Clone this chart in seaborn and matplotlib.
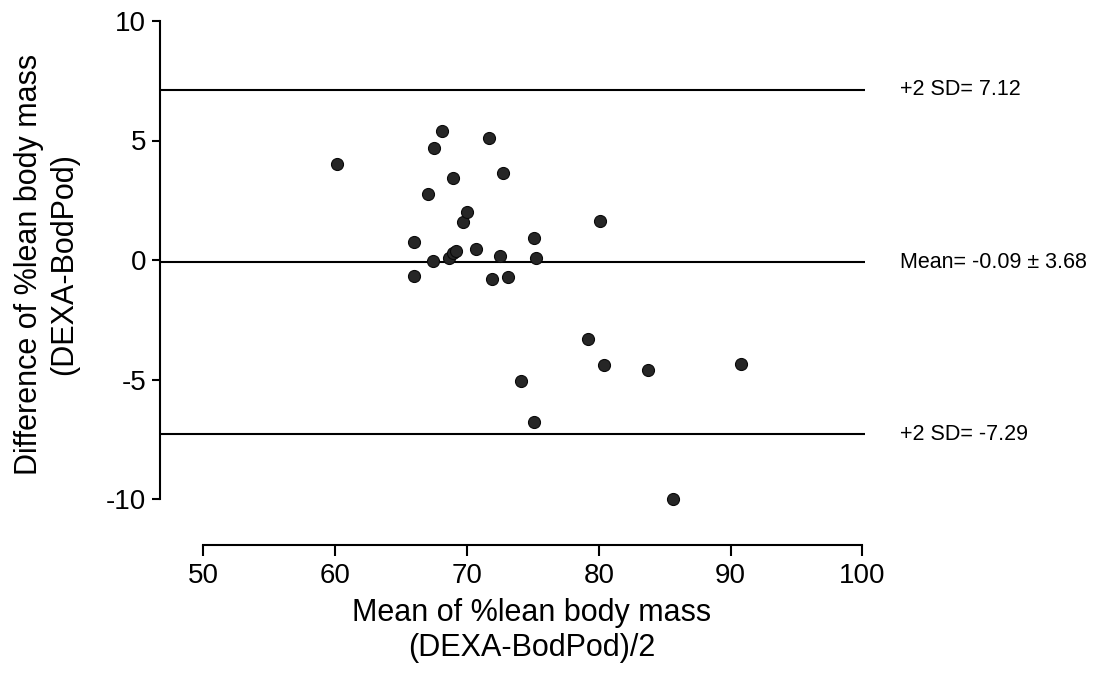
import matplotlib
matplotlib.use("Agg")
import matplotlib.pyplot as plt
import seaborn as sns
import pandas as pd

# Data
mean_lbm = [60.1, 66.0, 66.0, 67.05, 67.4, 67.5, 68.1, 68.6, 68.9, 68.9, 69.2,
            69.7, 70.0, 70.7, 71.7, 71.9, 72.5, 72.7, 73.1, 74.1, 75.1, 75.1,
            75.2, 79.2, 80.1, 80.4, 83.7, 85.6, 90.8]
diff_lbm = [4.0, 0.74, -0.66, 2.75, -0.03, 4.7, 5.4, 0.07, 3.44, 0.28, 0.38,
            1.58, 2.02, 0.45, 5.1, -0.79, 0.17, 3.63, -0.70, -5.08, 0.93, -6.77,
            0.07, -3.31, 1.63, -4.39, -4.60, -10.0, -4.34]

ref_values = [7.12, -0.09, -7.29]
ref_labels = ["+2 SD= 7.12", "Mean= -0.09 \u00b1 3.68", "+2 SD= -7.29"]

x_ticks = [50, 60, 70, 80, 90, 100]
y_ticks = [-10, -5, 0, 5, 10]

sns.set_style("ticks")
plt.rcParams['font.family'] = ['Liberation Sans', 'DejaVu Sans']
plt.rcParams['text.color'] = 'black'
plt.rcParams['axes.labelcolor'] = 'black'

df = pd.DataFrame({"mean": mean_lbm, "diff": diff_lbm})

W, H = 1106, 676
fig = plt.figure(figsize=(W / 100, H / 100), dpi=100)
ax = fig.add_axes([160 / W, 177 / H, 705 / W, 478 / H])

for v in ref_values:
    ax.axhline(v, color="black", lw=1.5, zorder=1)

sns.scatterplot(data=df, x="mean", y="diff", ax=ax, s=75, color="#262626",
                edgecolor="#0a0a0a", linewidth=0.8, zorder=3, clip_on=False,
                legend=False)

ax.set_xlim(46.7, 100.2)
ax.set_ylim(-10, 10)
ax.set_xticks(x_ticks)
ax.set_yticks(y_ticks)
ax.set_xticklabels([str(t) for t in x_ticks])
ax.set_yticklabels([str(t) for t in y_ticks])

ax.spines['top'].set_visible(False)
ax.spines['right'].set_visible(False)
ax.spines['bottom'].set_position(('outward', 33))
ax.spines['bottom'].set_bounds(50, 100)
ax.spines['left'].set_bounds(-10, 10)
for sp in ('left', 'bottom'):
    ax.spines[sp].set_linewidth(1.5)
    ax.spines[sp].set_color("black")

ax.tick_params(axis='x', length=8, width=1.5, labelsize=20, pad=5,
               colors="black", labelcolor="black")
ax.tick_params(axis='y', length=6, width=1.5, labelsize=20, pad=4,
               colors="black", labelcolor="black")

ax.set_xlabel("Mean of %lean body mass\n(DEXA-BodPod)/2", fontsize=22,
              linespacing=1.22)
ax.xaxis.set_label_coords((532 - 160) / 705, -(598 - 499) / 478)
ax.xaxis.label.set_verticalalignment('top')
ax.set_ylabel("Difference of %lean body mass\n(DEXA-BodPod)", fontsize=22,
              linespacing=1.22)
ax.yaxis.set_label_coords((47 - 160) / 705, (499 - 264) / 478)
ax.yaxis.label.set_verticalalignment('center')

for v, lab in zip(ref_values, ref_labels):
    ax.annotate(lab, xy=(1.0, v), xycoords=('axes fraction', 'data'),
                xytext=(35, 0), textcoords='offset pixels',
                ha='left', va='center', fontsize=15.5, annotation_clip=False)

fig.savefig("out.png", dpi=100)
